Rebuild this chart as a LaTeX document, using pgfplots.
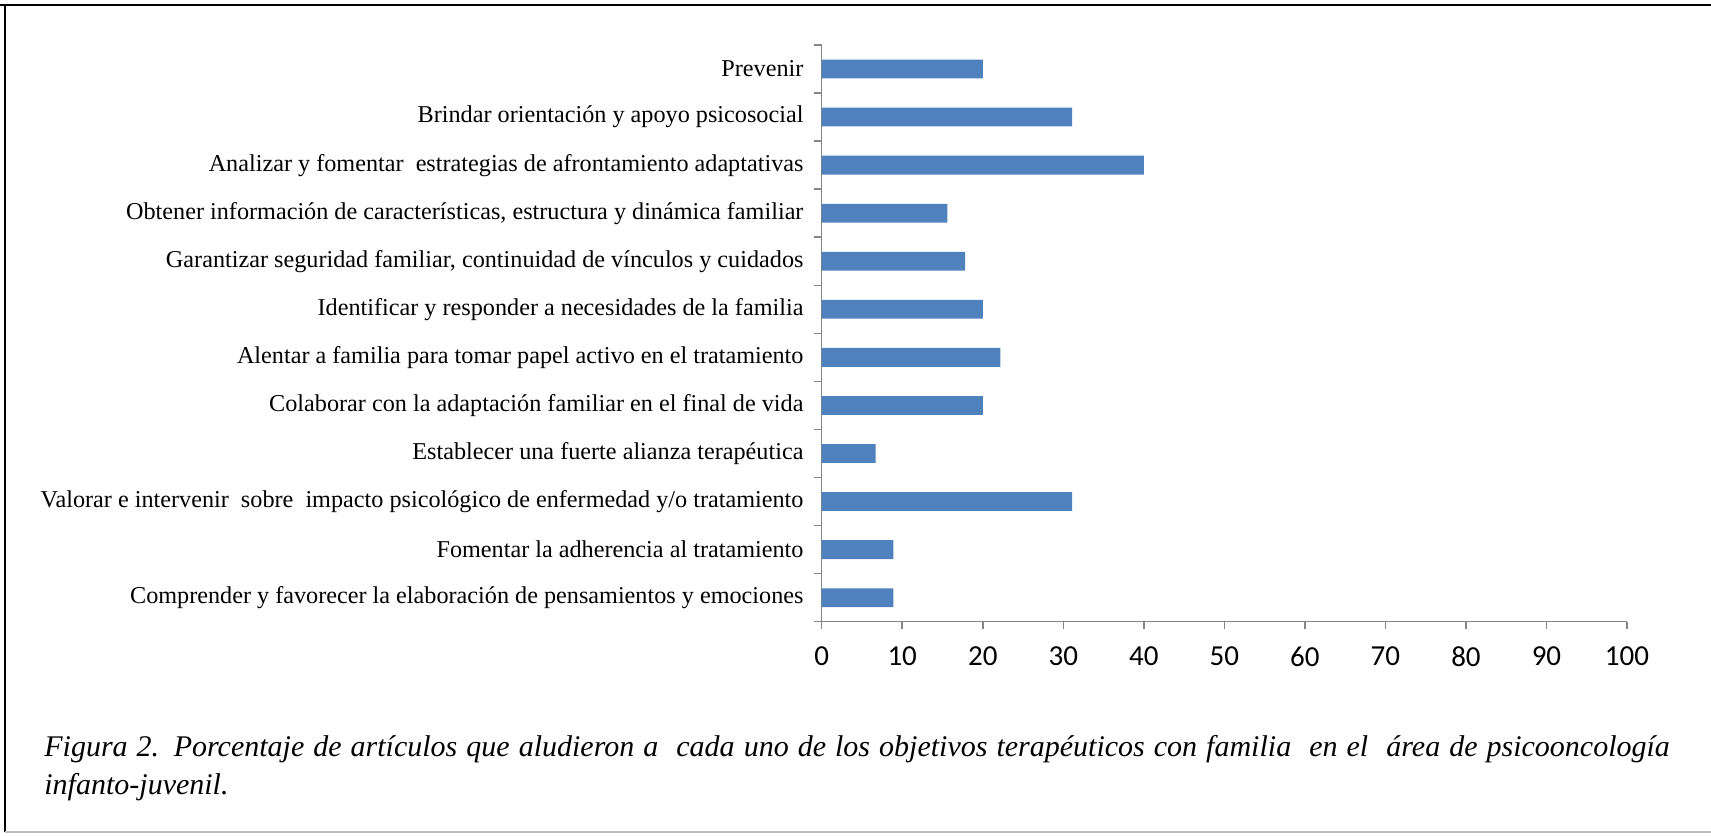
\documentclass[border=0pt]{standalone}
\usepackage{pgfplots}
\pgfplotsset{compat=1.18}
\usepackage{fontspec}
\setmainfont{Liberation Serif}
\newfontfamily\calibri{Carlito}
\definecolor{barblue}{HTML}{4F81BD}
\definecolor{axgray}{HTML}{868686}
\begin{document}
\begin{tikzpicture}[x=0.5pt,y=0.5pt]
\useasboundingbox (0,0) rectangle (1711,835);
\draw[black,line width=1.3pt] (0,830) -- (1711,830);
\draw[black,line width=1.1pt] (5,830.6) -- (5,3);
\draw[black!25,line width=0.8pt] (5,3) -- (1711,3);
\begin{axis}[
  at={(410.85pt,106.65pt)}, anchor=south west,
  scale only axis, width=402.65pt, height=288.35pt,
  xmin=0, xmax=100, xtick={0,10,...,100},
  minor xtick={0,10,...,100},
  ymin=-0.5, ymax=11.5, y dir=reverse,
  ytick={0,...,11},
  minor ytick={-0.5,0.5,...,11.5},
  yticklabels={
    Prevenir,
    Brindar orientación y apoyo psicosocial,
    Analizar y fomentar\ \ estrategias de afrontamiento adaptativas,
    {Obtener información de características, estructura y dinámica familiar},
    {Garantizar seguridad familiar, continuidad de vínculos y cuidados},
    Identificar y responder a necesidades de la familia,
    Alentar a familia para tomar papel activo en el tratamiento,
    Colaborar con la adaptación familiar en el final de vida,
    Establecer una fuerte alianza terapéutica,
    Valorar e intervenir\ \ sobre\ \ impacto psicológico de enfermedad y/o tratamiento,
    Fomentar la adherencia al tratamiento,
    Comprender y favorecer la elaboración de pensamientos y emociones},
  axis x line*=bottom, axis y line*=left,
  axis line style={axgray, line width=0.75pt},
  tick style={axgray, line width=0.75pt},
  tick align=outside,
  major tick length=0pt, minor tick length=3.8pt,
  /pgf/number format/assume math mode=true,
  xticklabel style={font=\calibri\fontsize{14.5}{17}\selectfont, yshift=-9pt},
  yticklabel style={font=\fontsize{12.1}{14}\selectfont, xshift=-5.6pt},
  xbar, bar width=9.4pt,
]
\addplot[fill=barblue, draw=none] coordinates {
  (20,0) (31.1,1) (40,2) (15.6,3) (17.8,4) (20,5)
  (22.2,6) (20,7) (6.7,8) (31.1,9) (8.9,10) (8.9,11)};
\end{axis}
\node[anchor=north west, inner sep=0, align=left,
      font=\itshape\fontsize{15}{19}\selectfont] at (44,100.5)
  {\makebox[812.7pt][s]{Figura 2. Porcentaje de artículos que aludieron a\ \ cada uno de los objetivos terapéuticos con familia\ \ en el\ \ área de psicooncología}\\
   infanto-juvenil.};
\end{tikzpicture}
\end{document}
